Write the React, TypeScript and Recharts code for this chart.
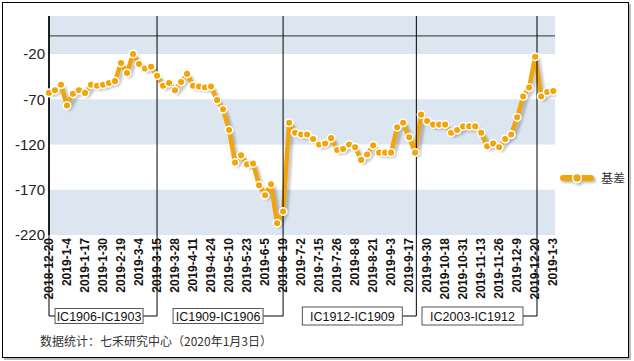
import React from "react"
import { LineChart, Line, XAxis, YAxis, ReferenceArea, ReferenceLine, Legend } from "recharts"

// one tick label every third point
const tickLabels = [
  "2018-12-20", "2019-1-4", "2019-1-17", "2019-1-30", "2019-2-19", "2019-3-4", "2019-3-15",
  "2019-3-28", "2019-4-11", "2019-4-24", "2019-5-10", "2019-5-23", "2019-6-5", "2019-6-19",
  "2019-7-2", "2019-7-15", "2019-7-26", "2019-8-8", "2019-8-21", "2019-9-3", "2019-9-17",
  "2019-9-30", "2019-10-18", "2019-10-31", "2019-11-13", "2019-11-26", "2019-12-9", "2019-12-20",
  "2019-1-3",
]

const basis = [
  -63, -60, -54, -77, -64, -60, -63, -54, -55, -54, -52, -50, -30, -41, -20, -31, -36, -34, -44,
  -55, -52, -60, -51, -42, -55, -56, -57, -56, -71, -81, -104, -140, -132, -142, -141, -165, -176,
  -164, -207, -194, -96, -107, -109, -109, -114, -120, -119, -113, -126, -125, -120, -123, -137,
  -131, -121, -129, -129, -129, -101, -96, -112, -129, -87, -94, -98, -98, -98, -107, -104, -100,
  -100, -100, -107, -122, -119, -123, -114, -109, -90, -67, -57, -23, -67, -62, -61,
]

const yTicks = [-220, -170, -120, -70, -20]
const yMax = 22

// contract roll points (position on the point index) and the spread shown for each period
const rollPoints = [18, 39, 61.2, 81.3]
const contracts = ["IC1906-IC1903", "IC1909-IC1906", "IC1912-IC1909", "IC2003-IC1912"]

const data = basis.map((v, i) => ({ idx: i, basis: v }))
const tickIdx = tickLabels.map((_, i) => i * 3)
const bands = [
  [yTicks[0], yTicks[1]],
  [yTicks[2], yTicks[3]],
  [yTicks[4], yMax],
]

const ORANGE = "#F2A50A"
const BAND = "#DCE6F1"
const FONT = "'Liberation Sans', Arial, sans-serif"
const CJK = "'Noto Sans CJK SC', sans-serif"
const LINK_Y = 316

const DateTick = (props: any) => {
  const { x, y, payload } = props
  return (
    <text
      x={x}
      y={y}
      dy={4}
      transform={`rotate(-90 ${x} ${y})`}
      textAnchor="end"
      fontSize={12}
      fontWeight="bold"
      fontFamily={FONT}
      fill="#111"
    >
      {tickLabels[Math.round(payload.value / 3)]}
    </text>
  )
}

// vertical marker that runs down past the dates and hooks into its label box
const rollShape = (label: string, boxW: number, gap: number, h: number, withStart: boolean) => (p: any) => {
  const x = p.x1
  const top = Math.min(p.y1, p.y2)
  const right = x - gap
  const left = right - boxW
  return (
    <g>
      <line x1={x} y1={top} x2={x} y2={LINK_Y} stroke="#000" strokeWidth={1} />
      <line x1={right} y1={LINK_Y} x2={x} y2={LINK_Y} stroke="#000" strokeWidth={1} />
      {withStart && (
        <>
          <line x1={49} y1={top} x2={49} y2={LINK_Y} stroke="#000" strokeWidth={1} />
          <line x1={49} y1={LINK_Y} x2={left} y2={LINK_Y} stroke="#000" strokeWidth={1} />
        </>
      )}
      <rect x={left} y={LINK_Y - h / 2} width={boxW} height={h} fill="#fff" stroke="#555" strokeWidth={1} />
      <text x={(left + right) / 2} y={LINK_Y + 4.5} textAnchor="middle" fontSize={12.5} fontFamily={FONT} fill="#111">
        {label}
      </text>
    </g>
  )
}

const boxLayout = [
  { w: 88, gap: 14, h: 15 },
  { w: 90, gap: 20, h: 15 },
  { w: 100, gap: 14, h: 18 },
  { w: 101, gap: 14, h: 18 },
]

const LegendContent = () => (
  <div style={{ display: "flex", alignItems: "center" }}>
    <svg width={36} height={14} style={{ overflow: "visible" }}>
      <g style={{ filter: "drop-shadow(2px 2px 1px rgba(0,0,0,0.25))" }}>
        <line x1={3} y1={7} x2={31} y2={7} stroke={ORANGE} strokeWidth={6} strokeLinecap="round" />
        <circle cx={17} cy={7} r={4.4} fill={ORANGE} stroke="#fff" strokeWidth={1.5} />
      </g>
    </svg>
    <span style={{ fontFamily: CJK, fontSize: 12, color: "#333", marginLeft: 5 }}>基差</span>
  </div>
)

export default function App() {
  return (
    <div style={{ position: "absolute", left: 0, top: 0, width: 634, height: 361, background: "#fff" }}>
      <style>{`.basis-line { filter: drop-shadow(3px 3px 1px rgba(0,0,0,0.22)); }`}</style>
      <div
        style={{
          position: "absolute",
          left: 2,
          top: 2,
          width: 627,
          height: 356,
          boxSizing: "border-box",
          border: "1px solid #000",
          boxShadow: "2px 2px 0 #bbb",
        }}
      />
      <div style={{ position: "absolute", left: 0, top: 0 }}>
        <LineChart width={634} height={361} data={data} margin={{ top: 16, right: 79, bottom: 0, left: 0 }}>
          {bands.map(([a, b], i) => (
            <ReferenceArea key={i} y1={a} y2={b} fill={BAND} fillOpacity={1} stroke="none" />
          ))}
          <ReferenceLine y={0} stroke="#555" strokeWidth={1.3} />
          <XAxis
            type="number"
            dataKey="idx"
            domain={[0, 84.3]}
            ticks={tickIdx}
            interval={0}
            tick={<DateTick />}
            axisLine={false}
            tickLine={false}
            tickSize={0}
            tickMargin={3}
            height={126}
          />
          <YAxis
            domain={[-220, yMax]}
            ticks={yTicks}
            interval={0}
            width={49}
            tickLine={false}
            tickSize={0}
            tickMargin={4}
            axisLine={{ stroke: "#000", strokeWidth: 1.5 }}
            tick={{ fontSize: 15, fill: "#222", fontFamily: FONT }}
          />
          <Line
            className="basis-line"
            type="linear"
            dataKey="basis"
            name="基差"
            stroke={ORANGE}
            strokeWidth={4.5}
            strokeLinejoin="round"
            dot={{ r: 3.8, fill: ORANGE, stroke: "#fff", strokeWidth: 1.5 }}
            isAnimationActive={false}
          />
          {rollPoints.map((x, i) => (
            <ReferenceLine
              key={x}
              x={x}
              stroke="#000"
              shape={rollShape(contracts[i], boxLayout[i].w, boxLayout[i].gap, boxLayout[i].h, i === 0)}
            />
          ))}
          <Legend
            layout="vertical"
            align="center"
            verticalAlign="middle"
            content={<LegendContent />}
            wrapperStyle={{ left: 560, top: 169, width: 72 }}
          />
        </LineChart>
      </div>
      <div
        style={{
          position: "absolute",
          left: 40,
          top: 332,
          fontFamily: CJK,
          fontSize: 12,
          color: "#333",
          whiteSpace: "nowrap",
        }}
      >
        数据统计：七禾研究中心（2020年1月3日）
      </div>
    </div>
  )
}
